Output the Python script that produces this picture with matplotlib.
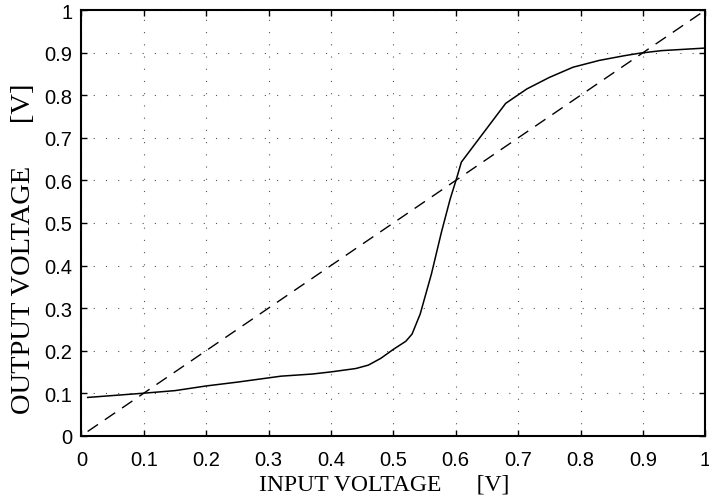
import matplotlib.pyplot as plt
import numpy as np

# Transfer characteristic
vin = [0.01, 0.10, 0.15, 0.20, 0.25, 0.29, 0.32, 0.37, 0.40, 0.44, 0.46, 0.48,
       0.50, 0.52, 0.53, 0.543, 0.561, 0.577, 0.591, 0.601, 0.609, 0.68, 0.714,
       0.75, 0.788, 0.83, 0.87, 0.895, 0.93, 1.00]
vout = [0.090, 0.100, 0.106, 0.117, 0.126, 0.134, 0.140, 0.145, 0.150, 0.158,
        0.166, 0.182, 0.203, 0.222, 0.239, 0.286, 0.380, 0.478, 0.556, 0.603,
        0.643, 0.781, 0.815, 0.842, 0.866, 0.882, 0.893, 0.899, 0.905, 0.911]
ref_x = [0.01, 1.0]
ref_y = [0.01, 1.0]

ticks = np.round(np.arange(0, 1.01, 0.1), 1)
tick_labels = ['0', '0.1', '0.2', '0.3', '0.4', '0.5', '0.6', '0.7', '0.8', '0.9', '1']

fig = plt.figure(figsize=(7.09, 5.02), dpi=100)
ax = fig.add_axes([0.1148, 0.130, 0.880, 0.8477])

ax.plot(vin, vout, color='black', linewidth=1.1)
ax.plot(ref_x, ref_y, color='black', linewidth=1.0, linestyle=(0, (9, 6)))

ax.set_xlim(0, 1)
ax.set_ylim(0, 1)
ax.set_xticks(ticks)
ax.set_yticks(ticks)
ax.set_xticklabels(tick_labels, family='Liberation Sans', fontsize=14.5)
ax.set_yticklabels(tick_labels, family='Liberation Sans', fontsize=14.5)
ax.tick_params(direction='in', length=4, width=1, top=True, right=True)
ax.tick_params(axis='x', pad=10)
ax.tick_params(axis='y', pad=6.5)

ax.grid(True, color='#555555', linestyle=(0, (1, 10)), linewidth=0.8)
for s in ax.spines.values():
    s.set_linewidth(1.5)

ax.set_xlabel('INPUT VOLTAGE      [V]', family='Liberation Serif', fontsize=17)
ax.set_ylabel('OUTPUT VOLTAGE      [V]', family='Liberation Serif', fontsize=20.5)
ax.xaxis.set_label_coords(0.485, -0.088)
ax.yaxis.set_label_coords(-0.073, 0.441)

fig.savefig('out.png', dpi=100)
